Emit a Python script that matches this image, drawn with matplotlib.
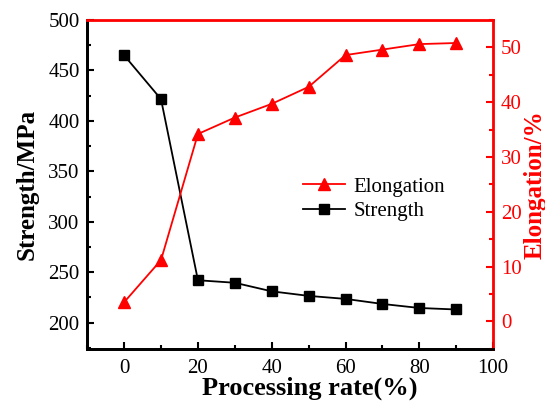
import numpy as np
import matplotlib.pyplot as plt
from matplotlib.ticker import MultipleLocator

# processing rate (%) and measured values
rate = [0, 10, 20, 30, 40, 50, 60, 70, 80, 90]
strength = [465, 421.5, 242, 239.5, 231, 226.5, 223.5, 218.5, 214.5, 213]
elongation = [3.5, 11.2, 34.2, 37.2, 39.7, 42.8, 48.6, 49.6, 50.6, 50.8]

plt.rcParams['font.family'] = 'Liberation Serif'
plt.rcParams['mathtext.fontset'] = 'stix'

fig, ax = plt.subplots(figsize=(5.45, 4.08), dpi=100)
fig.subplots_adjust(left=0.16, right=0.905, top=0.951, bottom=0.145)
ax2 = ax.twinx()

l1, = ax.plot(rate, strength, color='black', marker='s', markersize=7, lw=1.3, label='Strength')
l2, = ax2.plot(rate, elongation, color='red', marker='^', markersize=8, lw=1.3, label='Elongation')

ax.set_xlim(-10, 100)
ax.set_ylim(174, 500)
ax2.set_ylim(-5, 55)

ax.xaxis.set_major_locator(MultipleLocator(20))
ax.xaxis.set_minor_locator(MultipleLocator(10))
ax.yaxis.set_major_locator(MultipleLocator(50))
ax.yaxis.set_minor_locator(MultipleLocator(25))
ax2.yaxis.set_major_locator(MultipleLocator(10))
ax2.yaxis.set_minor_locator(MultipleLocator(5))

ax.tick_params(which='both', direction='in', width=1.5, labelsize=15, top=False)
ax.tick_params(which='major', length=5)
ax.tick_params(which='minor', length=3)
ax.tick_params(axis='x', which='both', pad=7)
ax.tick_params(axis='y', which='both', pad=5.5)
ax2.tick_params(which='both', direction='in', width=1.5, labelsize=15, colors='red', pad=5.5)
ax2.tick_params(which='major', length=5)
ax2.tick_params(which='minor', length=3)

for s in ['left', 'bottom']:
    ax.spines[s].set_linewidth(2)
for s in ['top', 'right']:
    ax2.spines[s].set_linewidth(2)
    ax2.spines[s].set_color('red')
ax2.spines['left'].set_linewidth(2)
ax2.spines['bottom'].set_linewidth(2)
ax2.spines['left'].set_color('black')

ax.set_xlabel('Processing rate(%)', fontsize=19, fontweight='bold', labelpad=-1)
ax.xaxis.label.set_x(0.548)
ax.set_ylabel('Strength/MPa', fontsize=18, fontweight='bold', labelpad=7)
ax2.set_ylabel('Elongation/%', fontsize=18, fontweight='bold', color='red', labelpad=1)

ax2.legend([l2, l1], ['Elongation', 'Strength'], loc='center', bbox_to_anchor=(0.707, 0.455),
           frameon=False, fontsize=15, handlelength=2.0, labelspacing=0.25,
           handletextpad=0.4)

plt.savefig('out.png')
